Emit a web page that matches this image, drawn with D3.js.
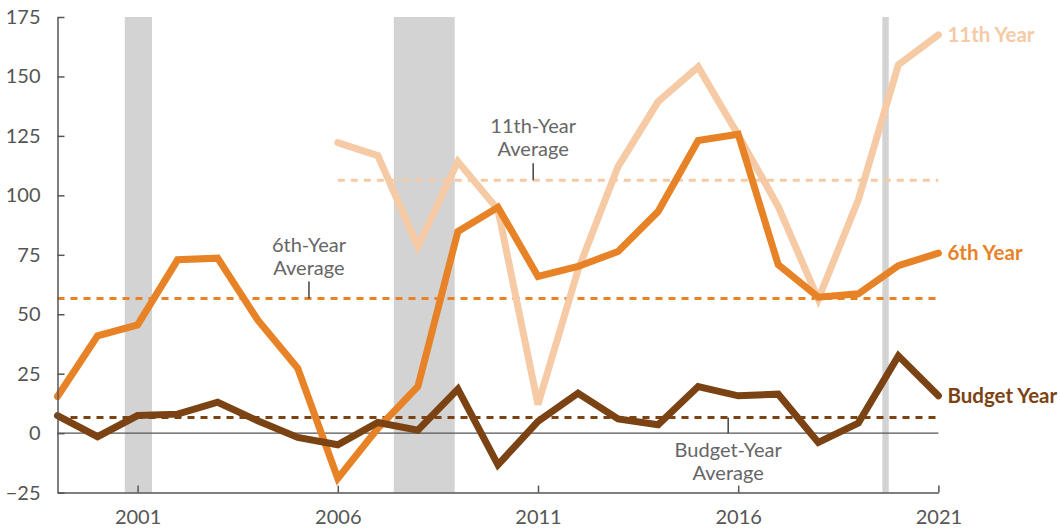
<!DOCTYPE html>
<html>
<head>
<meta charset="utf-8">
<script src="https://cdn.jsdelivr.net/npm/d3@7"></script>
<style>
  body { margin: 0; background: #fff; }
  svg text { font-family: Lato, "Open Sans", sans-serif; }
</style>
</head>
<body>
<div class="graph-container"></div>
<script>
// values, one per year
var years = [1999, 2000, 2001, 2002, 2003, 2004, 2005, 2006, 2007, 2008, 2009, 2010,
  2011, 2012, 2013, 2014, 2015, 2016, 2017, 2018, 2019, 2020, 2021];
var budgetYear = [7.4, -1.5, 7.4, 8.0, 13.0, 5.2, -1.8, -4.9, 4.5, 1.2, 18.5, -13.3,
  4.9, 16.8, 6.0, 3.5, 19.6, 15.7, 16.4, -3.9, 4.2, 32.5, 15.7];
var sixthYear = [15.4, 40.9, 45.5, 72.9, 73.6, 47.6, 27.3, -19.0, 2.0, 19.6, 84.8, 95.0,
  65.9, 70.1, 76.4, 93.2, 123.1, 125.7, 70.8, 57.2, 58.6, 70.4, 75.7];
// 11th year series starts in 2006
var eleventhYears = [2006, 2007, 2008, 2009, 2010, 2011, 2012, 2013, 2014, 2015, 2016,
  2017, 2018, 2019, 2020, 2021];
var eleventhYear = [122.2, 116.7, 78.5, 114.2, 94.0, 12.0, 68.6, 112.1, 139.4, 154.0,
  125.4, 95.3, 56.3, 98.1, 154.9, 167.5];

var averages = [6.6, 56.6, 106.3]; // budget, 6th, 11th
var recessions = [[2000.68, 2001.36], [2007.4, 2008.92], [2019.6, 2019.76]];
var yTicks = [-25, 0, 25, 50, 75, 100, 125, 150, 175];
var xTicks = [2001, 2006, 2011, 2016, 2021];

var svgWidth = 1060;
var svgHeight = 529;

var colBudget = '#7b4313';
var colSixth = '#e88226';
var colEleventh = '#f5caa5';
var textGray = '#666';

var svg = d3.select('.graph-container').append('svg')
  .attr('width', svgWidth)
  .attr('height', svgHeight);

var xScale = d3.scaleLinear().domain([1999, 2021]).range([57.5, 938.4]);
var yScale = d3.scaleLinear().domain([-25, 175]).range([492.6, 17]);

// recession shading
svg.selectAll('rect.recession')
  .data(recessions)
  .enter()
  .append('rect')
  .attr('class', 'recession')
  .attr('x', function(d) { return xScale(d[0]); })
  .attr('width', function(d) { return xScale(d[1]) - xScale(d[0]); })
  .attr('y', yScale(175))
  .attr('height', yScale(-25) - yScale(175))
  .attr('fill', '#d3d3d3');

// zero line
svg.append('line')
  .attr('x1', xScale(1999)).attr('x2', xScale(2021))
  .attr('y1', yScale(0)).attr('y2', yScale(0))
  .attr('stroke', '#555').attr('stroke-width', 1.2);

// average lines
function avgLine(value, start, color) {
  svg.append('line')
    .attr('x1', xScale(start)).attr('x2', xScale(2021))
    .attr('y1', yScale(value)).attr('y2', yScale(value))
    .attr('stroke', color)
    .attr('stroke-width', 3)
    .attr('stroke-dasharray', '7,6');
}
avgLine(averages[2], 2006, colEleventh);
avgLine(averages[1], 1999, colSixth);
avgLine(averages[0], 1999, colBudget);

// series lines
var line = d3.line()
  .x(function(d) { return xScale(d[0]); })
  .y(function(d) { return yScale(d[1]); });

function drawSeries(xs, vals, color) {
  svg.append('path')
    .datum(d3.zip(xs, vals))
    .attr('d', line)
    .attr('fill', 'none')
    .attr('stroke', color)
    .attr('stroke-width', 7)
    .attr('stroke-linejoin', 'miter')
    .attr('stroke-linecap', 'round');
}
drawSeries(eleventhYears, eleventhYear, colEleventh);
drawSeries(years, sixthYear, colSixth);
drawSeries(years, budgetYear, colBudget);

// axes, ticks pointing inward
var yAxis = d3.axisLeft(yScale)
  .tickValues(yTicks)
  .tickSizeInner(-7)
  .tickSizeOuter(0)
  .tickPadding(17)
  .tickFormat(function(d) { return d < 0 ? '\u2212' + Math.abs(d) : d; });

var xAxis = d3.axisBottom(xScale)
  .tickValues(xTicks)
  .tickSizeInner(-7)
  .tickSizeOuter(0)
  .tickPadding(17)
  .tickFormat(d3.format('d'));

var gy = svg.append('g')
  .attr('transform', 'translate(' + xScale(1999) + ',0)')
  .call(yAxis);
var gx = svg.append('g')
  .attr('transform', 'translate(0,' + yScale(-25) + ')')
  .call(xAxis);

[gy, gx].forEach(function(g) {
  g.select('.domain').attr('stroke', '#555').attr('stroke-width', 1.5);
  g.selectAll('.tick line').attr('stroke', '#555').attr('stroke-width', 1.5);
  g.selectAll('.tick text')
    .attr('fill', '#555')
    .style('font-size', '20px');
});

// end labels
var endLabels = [
  { text: '11th Year', value: eleventhYear[eleventhYear.length - 1], color: colEleventh },
  { text: '6th Year', value: sixthYear[sixthYear.length - 1], color: colSixth },
  { text: 'Budget Year', value: budgetYear[budgetYear.length - 1], color: colBudget }
];
svg.selectAll('text.end-label')
  .data(endLabels)
  .enter()
  .append('text')
  .attr('class', 'end-label')
  .attr('x', xScale(2021) + 9)
  .attr('y', function(d) { return yScale(d.value); })
  .attr('dy', '0.35em')
  .attr('fill', function(d) { return d.color; })
  .style('font-size', '20.5px')
  .style('font-weight', 'bold')
  .text(function(d) { return d.text; });

// average annotations
var notes = [
  { lines: ['11th-Year', 'Average'], x: 2010.88, value: averages[2], above: true },
  { lines: ['6th-Year', 'Average'], x: 2005.28, value: averages[1], above: true },
  { lines: ['Budget-Year', 'Average'], x: 2015.75, value: averages[0], above: false }
];
notes.forEach(function(n) {
  var cx = xScale(n.x);
  var y0 = yScale(n.value);
  var g = svg.append('g');
  var y1, yText;
  if (n.above) {
    g.append('line')
      .attr('x1', cx).attr('x2', cx)
      .attr('y1', y0 - 17).attr('y2', y0)
      .attr('stroke', '#444').attr('stroke-width', 1.5);
    yText = [y0 - 47, y0 - 24];
  } else {
    g.append('line')
      .attr('x1', cx).attr('x2', cx)
      .attr('y1', y0).attr('y2', yScale(0))
      .attr('stroke', '#444').attr('stroke-width', 1.5);
    yText = [yScale(0) + 24, yScale(0) + 47];
  }
  n.lines.forEach(function(t, i) {
    g.append('text')
      .attr('x', cx).attr('y', yText[i])
      .attr('text-anchor', 'middle')
      .attr('fill', textGray)
      .style('font-size', '20px')
      .text(t);
  });
});
</script>
</body>
</html>
